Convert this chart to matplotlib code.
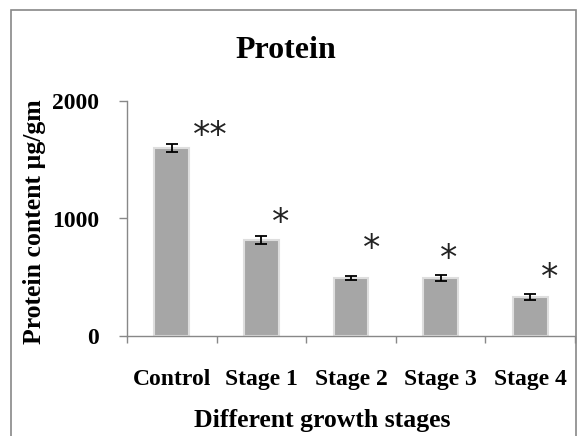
import matplotlib.pyplot as plt
from matplotlib.patches import Rectangle

# Data
stages = ['Control', 'Stage 1', 'Stage 2', 'Stage 3', 'Stage 4']
protein = [1602, 817, 491, 493, 329]
protein_err = [34, 30, 18, 25, 25]
marks = ['**', '*', '*', '*', '*']
mark_y = [1700, 960, 740, 655, 490]
mark_dx = [0.43, 0.21, 0.23, 0.09, 0.22]

plt.rcParams['font.family'] = ['Liberation Serif', 'DejaVu Serif']
plt.rcParams['font.weight'] = 'bold'

fig = plt.figure(figsize=(5.85, 4.36), dpi=100)
ax = fig.add_axes([127 / 585, 1 - 336 / 436, 448 / 585, 235 / 436])

x = list(range(len(stages)))
ax.bar(x, protein, width=0.39, color='#a6a6a6', edgecolor='#dedede', linewidth=1.5, zorder=2)
ax.errorbar(x, protein, yerr=protein_err, fmt='none', ecolor='black',
            elinewidth=1.3, capsize=4.5, capthick=1.3, zorder=3)

for i, (m, y, dx) in enumerate(zip(marks, mark_y, mark_dx)):
    ax.text(i + dx, y, m, ha='center', va='center', fontsize=25,
            fontweight='normal', color='#222222', family='DejaVu Sans')

ax.set_xlim(-0.5, 4.5)
ax.set_ylim(0, 2000)
ax.set_yticks([0, 1000, 2000])
ax.set_xticks(x)
ax.set_xticklabels(stages, fontsize=17, fontweight='bold')
ax.set_xticks([i - 0.5 for i in range(6)], minor=True)
ax.tick_params(axis='x', which='major', length=0, pad=23.5)
ax.tick_params(axis='x', which='minor', length=5, width=1, color='#888888', direction='out')
ax.tick_params(axis='y', length=6, width=1, color='#888888', labelsize=17, pad=14)
for lab in ax.get_yticklabels():
    lab.set_fontweight('bold')

for s in ['top', 'right']:
    ax.spines[s].set_visible(False)
for s in ['left', 'bottom']:
    ax.spines[s].set_color('#888888')
    ax.spines[s].set_linewidth(1)

fig.text(286 / 585, 1 - 51 / 436, 'Protein', ha='center', va='center',
         fontsize=23, fontweight='bold')
ax.set_xlabel('Different growth stages', fontsize=18.5, fontweight='bold', va='center')
ax.xaxis.set_label_coords((322 - 127) / 448, (336 - 420) / 235)
ax.set_ylabel('Protein content µg/gm', fontsize=18.5, fontweight='bold', va='center')
ax.yaxis.set_label_coords((35 - 127) / 448, (336 - 222) / 235)

# outer chart frame (cut off at the bottom)
fig.patches.append(Rectangle((11 / 585, -0.05), 565 / 585, 1.05 - 10 / 436,
                             transform=fig.transFigure, fill=False,
                             edgecolor='#888888', linewidth=1.2))

fig.savefig('out.png', dpi=100)
